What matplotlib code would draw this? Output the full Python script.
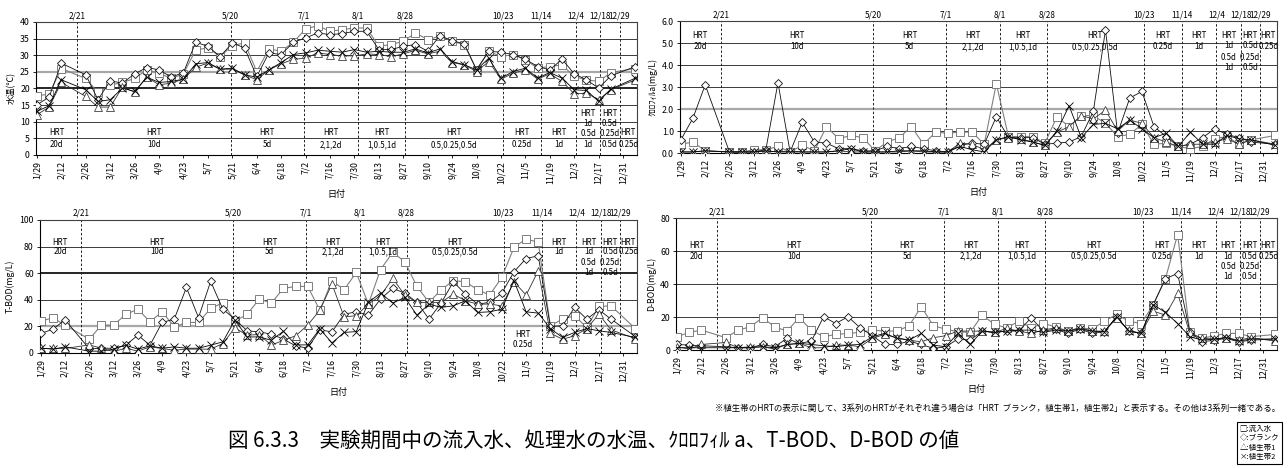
import numpy as np
import matplotlib
matplotlib.use("Agg")
import matplotlib.pyplot as plt
import matplotlib.dates as mdates
from datetime import datetime

plt.rcParams['font.family'] = ['Noto Sans CJK JP', 'DejaVu Sans']

# sampling dates (weekly, 2/19 and 12/31 missing)
dates = ["2007-01-29", "2007-02-05", "2007-02-12", "2007-02-26", "2007-03-05", "2007-03-12",
         "2007-03-19", "2007-03-26", "2007-04-02", "2007-04-09", "2007-04-16", "2007-04-23",
         "2007-04-30", "2007-05-07", "2007-05-14", "2007-05-21", "2007-05-28", "2007-06-04",
         "2007-06-11", "2007-06-18", "2007-06-25", "2007-07-02", "2007-07-09", "2007-07-16",
         "2007-07-23", "2007-07-30", "2007-08-06", "2007-08-13", "2007-08-20", "2007-08-27",
         "2007-09-03", "2007-09-10", "2007-09-17", "2007-09-24", "2007-10-01", "2007-10-08",
         "2007-10-15", "2007-10-22", "2007-10-29", "2007-11-05", "2007-11-12", "2007-11-19",
         "2007-11-26", "2007-12-03", "2007-12-10", "2007-12-17", "2007-12-24", "2008-01-07"]

tick_dates = ["2007-01-29", "2007-02-12", "2007-02-26", "2007-03-12", "2007-03-26", "2007-04-09",
              "2007-04-23", "2007-05-07", "2007-05-21", "2007-06-04", "2007-06-18", "2007-07-02",
              "2007-07-16", "2007-07-30", "2007-08-13", "2007-08-27", "2007-09-10", "2007-09-24",
              "2007-10-08", "2007-10-22", "2007-11-05", "2007-11-19", "2007-12-03", "2007-12-17",
              "2007-12-31"]
tick_labels = ["1/29", "2/12", "2/26", "3/12", "3/26", "4/9", "4/23", "5/7", "5/21", "6/4",
               "6/18", "7/2", "7/16", "7/30", "8/13", "8/27", "9/10", "9/24", "10/8", "10/22",
               "11/5", "11/19", "12/3", "12/17", "12/31"]

# HRT change dates and labels
phase_dates = ["2007-02-21", "2007-05-20", "2007-07-01", "2007-08-01", "2007-08-28",
               "2007-10-23", "2007-11-14", "2007-12-04", "2007-12-18", "2007-12-29"]
phase_labels = ["2/21", "5/20", "7/1", "8/1", "8/28", "10/23", "11/14", "12/4", "12/18", "12/29"]
hrt_values = ["20d", "10d", "5d", "2,1,2d", "1,0.5,1d", "0.5,0.25,0.5d", "0.25d", "1d",
              ["1d", "0.5d", "1d"], ["0.5d", "0.25d", "0.5d"], "0.25d"]

series_names = ["流入水", "ブランク", "植生帯1", "植生帯2"]

# 水温 (℃)
temp_inflow = [17.8, 18.3, 26.0, 23.0, 18.8, 21.0, 21.8, 23.0, 25.6, 24.6, 23.0, 24.4,
               31.6, 32.2, 29.6, 32.9, 33.7, 25.1, 31.9, 31.2, 33.9, 37.9, 38.9, 37.2,
               37.7, 38.2, 38.2, 32.7, 33.2, 34.2, 36.7, 34.7, 35.7, 34.2, 33.2, 25.6,
               31.2, 29.6, 30.2, 28.6, 26.1, 26.6, 27.1, 23.6, 22.6, 22.1, 24.8, 26.0]
temp_blank = [15.1, 17.4, 27.6, 24.1, 16.6, 22.3, 21.6, 24.4, 26.3, 25.6, 23.4, 24.8,
              33.9, 32.7, 29.6, 33.7, 32.2, 23.6, 30.7, 30.2, 33.9, 35.2, 36.7, 36.2,
              36.5, 37.2, 37.2, 31.7, 31.7, 32.7, 33.2, 31.2, 35.9, 34.4, 33.4, 25.6,
              31.2, 30.9, 30.2, 28.8, 26.6, 25.6, 28.8, 24.4, 22.6, 20.1, 23.8, 26.6]
temp_veg1 = [12.1, 14.4, 21.8, 17.6, 14.4, 14.4, 20.4, 18.9, 23.4, 21.1, 21.6, 22.8,
             26.4, 27.6, 25.8, 25.8, 24.1, 22.6, 25.6, 27.4, 28.8, 29.1, 30.7, 30.2,
             29.8, 29.8, 30.4, 30.2, 29.6, 30.4, 31.5, 30.4, 31.2, 27.8, 27.1, 25.1,
             28.1, 22.8, 24.6, 25.6, 22.8, 24.4, 22.1, 18.4, 18.6, 16.6, 19.6, 22.6]
temp_veg2 = [13.1, 14.8, 22.6, 19.6, 16.1, 16.6, 20.1, 19.1, 23.4, 21.8, 22.1, 22.8,
             27.4, 27.8, 25.8, 26.1, 24.1, 23.4, 25.6, 27.8, 30.2, 30.7, 31.5, 31.2,
             30.9, 31.7, 30.9, 31.2, 30.9, 30.9, 31.9, 30.7, 31.9, 28.1, 27.1, 25.6,
             29.1, 23.1, 25.1, 26.1, 23.1, 24.8, 23.1, 19.6, 19.4, 16.1, 19.8, 23.1]

# クロロフィルa (mg/L)
chl_inflow = [0.4, 0.5, 0.1, 0.05, 0.05, 0.15, 0.15, 0.3, 0.05, 0.35, 0.1, 1.2,
              0.65, 0.8, 0.7, 0.1, 0.5, 0.7, 1.2, 0.4, 0.95, 0.9, 0.95, 0.95,
              0.4, 3.15, 0.75, 0.75, 0.75, 0.45, 1.65, 1.2, 1.7, 1.7, 1.35, 0.75,
              0.85, 1.3, 0.4, 0.45, 0.3, 0.2, 0.3, 0.65, 0.75, 0.4, 0.6, 0.8]
chl_blank = [0.6, 1.6, 3.1, 0.05, 0.05, 0.05, 0.15, 3.2, 0.05, 1.4, 0.5, 0.45,
             0.2, 0.2, 0.1, 0.1, 0.3, 0.2, 0.3, 0.2, 0.1, 0.05, 0.35, 0.45,
             0.4, 1.65, 0.7, 0.7, 0.7, 0.4, 0.45, 0.5, 0.75, 1.9, 5.6, 0.9,
             2.5, 2.8, 1.2, 0.75, 0.3, 0.4, 0.7, 1.1, 0.85, 0.7, 0.5, 0.4]
chl_veg1 = [0.05, 0.05, 0.1, 0.05, 0.05, 0.05, 0.1, 0.05, 0.1, 0.05, 0.05, 0.05,
            0.1, 0.05, 0.05, 0.05, 0.05, 0.05, 0.1, 0.05, 0.05, 0.05, 0.45, 0.4,
            0.15, 0.6, 0.7, 0.65, 0.5, 0.35, 0.95, 1.2, 1.7, 1.55, 1.95, 1.0,
            1.5, 1.35, 0.7, 0.5, 0.3, 0.4, 0.4, 0.5, 0.65, 0.4, 0.6, 0.4]
chl_veg2 = [0.05, 0.05, 0.1, 0.05, 0.05, 0.05, 0.1, 0.05, 0.05, 0.05, 0.05, 0.05,
            0.1, 0.2, 0.05, 0.05, 0.05, 0.1, 0.1, 0.1, 0.05, 0.05, 0.3, 0.15,
            0.05, 0.6, 0.75, 0.6, 0.5, 0.35, 1.0, 2.15, 0.7, 1.3, 1.35, 1.1,
            1.5, 1.1, 0.7, 0.9, 0.3, 0.95, 0.4, 0.4, 0.8, 0.65, 0.6, 0.35]

# T-BOD (mg/L)
tbod_inflow = [23.9, 26.4, 20.9, 10.3, 20.9, 20.9, 28.9, 32.9, 23.4, 30.9, 19.6, 22.9,
               22.9, 33.4, 37.7, 24.0, 28.9, 40.5, 37.5, 48.5, 50.0, 50.0, 32.0, 54.3,
               47.5, 60.5, 36.7, 62.6, 75.6, 68.6, 50.0, 38.0, 47.5, 54.3, 53.5, 47.5,
               43.5, 56.8, 79.4, 85.7, 83.2, 20.4, 25.4, 27.9, 19.1, 34.9, 35.4, 18.3]
tbod_blank = [14.6, 17.8, 24.9, 3.0, 3.5, 3.5, 5.8, 13.3, 5.8, 22.9, 25.4, 49.2,
              26.6, 53.8, 32.9, 25.4, 16.6, 15.8, 14.1, 10.3, 5.3, 3.5, 17.3, 15.8,
              29.1, 30.9, 28.4, 40.5, 48.5, 45.0, 38.0, 25.4, 37.5, 53.5, 44.2, 36.7,
              38.0, 45.0, 61.0, 71.0, 73.0, 19.8, 20.4, 34.2, 25.4, 32.4, 25.4, 12.3]
tbod_veg1 = [3.3, 3.3, 3.3, 6.0, 3.5, 1.0, 3.5, 1.3, 4.5, 3.3, 2.0, 2.8,
             2.8, 2.8, 7.0, 18.8, 13.3, 13.8, 5.8, 9.5, 12.8, 20.9, 32.2, 51.8,
             27.0, 28.0, 36.7, 43.0, 56.0, 43.5, 38.0, 38.0, 38.0, 44.2, 39.2, 36.7,
             36.7, 35.4, 53.5, 43.5, 61.8, 14.8, 10.3, 12.8, 18.3, 29.1, 17.3, 10.8]
tbod_veg2 = [3.5, 2.8, 4.5, 1.3, 1.3, 2.8, 5.8, 2.8, 5.3, 3.5, 4.5, 3.5,
             3.5, 5.8, 8.3, 24.6, 12.0, 12.0, 9.5, 16.3, 6.0, 6.0, 18.0, 7.5,
             15.4, 16.0, 38.0, 45.0, 37.5, 41.7, 28.4, 36.7, 34.2, 35.4, 39.2, 30.4,
             30.9, 32.9, 54.3, 30.9, 29.9, 18.3, 11.6, 15.4, 18.3, 16.6, 15.4, 11.6]

# D-BOD (mg/L)
dbod_inflow = [8.1, 10.7, 12.1, 7.5, 12.1, 14.1, 19.6, 14.1, 11.5, 19.6, 12.1, 8.1,
               9.5, 10.1, 10.7, 12.1, 11.5, 11.5, 14.7, 26.2, 14.7, 12.7, 11.1, 10.7,
               21.2, 15.5, 13.5, 17.5, 13.5, 16.1, 14.1, 11.5, 13.5, 12.7, 17.5, 21.6,
               17.5, 16.1, 27.2, 43.3, 70.0, 10.7, 7.1, 8.7, 10.1, 10.1, 8.1, 9.5]
dbod_blank = [3.4, 3.0, 2.6, 2.0, 1.4, 1.4, 3.4, 2.0, 7.1, 4.0, 5.4, 20.2,
              16.1, 20.2, 13.5, 8.7, 3.4, 3.4, 5.4, 3.4, 1.0, 2.0, 6.7, 6.0,
              11.5, 10.7, 11.5, 11.5, 19.6, 11.5, 12.7, 10.1, 12.7, 10.1, 11.1, 20.2,
              11.5, 10.1, 27.6, 43.3, 46.4, 11.1, 5.0, 6.0, 7.1, 5.0, 6.0, 6.7]
dbod_veg1 = [2.0, 0.6, 3.4, 4.6, 1.4, 2.0, 2.0, 0.6, 3.4, 4.0, 1.4, 1.4,
             3.0, 3.0, 2.0, 7.1, 9.5, 7.5, 6.0, 5.0, 7.5, 8.7, 11.5, 11.5,
             11.5, 10.7, 13.1, 11.5, 10.1, 12.1, 13.5, 11.5, 13.5, 11.5, 11.5, 19.2,
             12.1, 10.1, 23.6, 21.2, 34.3, 10.1, 7.1, 6.7, 7.5, 6.0, 7.5, 5.4]
dbod_veg2 = [1.4, 1.4, 1.4, 1.4, 1.4, 1.4, 2.0, 1.4, 3.4, 4.0, 3.4, 2.6,
             2.0, 3.0, 3.4, 8.1, 10.1, 7.1, 6.0, 10.1, 3.0, 2.0, 10.1, 3.4,
             11.5, 10.7, 11.5, 12.1, 12.1, 10.7, 12.1, 11.5, 12.7, 11.5, 11.1, 20.2,
             11.5, 10.1, 27.6, 22.8, 16.1, 8.1, 6.0, 6.7, 7.5, 5.4, 6.7, 6.7]


def d(s):
    return datetime.strptime(s, "%Y-%m-%d")


x = [d(s) for s in dates]
xlim = (mdates.date2num(d("2007-01-29")) - 0.5, mdates.date2num(d("2008-01-08")))

styles = [dict(marker='s', ms=5.5, color='#808080', mec='#6a6a6a', lw=0.8),
          dict(marker='D', ms=4.4, color='#101010', mec='#101010', lw=0.6),
          dict(marker='^', ms=6, color='#303030', mec='#404040', lw=0.6),
          dict(marker='x', ms=6, color='black', mec='black', lw=0.6)]


def draw_panel(rect, data, ylim, yticks, yfmt, ylabel, rows, stack_rows,
               strong=(), gray=(), extra=None):
    ax = fig.add_axes(rect)
    for yv in yticks[1:-1]:
        if yv in gray:
            ax.axhline(yv, color='#a8a8a8', lw=1.6, zorder=1)
        elif yv in strong:
            ax.axhline(yv, color='black', lw=1.2, zorder=1)
        else:
            ax.axhline(yv, color='#3a3a3a', lw=0.7, zorder=1)
    for pd_ in phase_dates:
        ax.axvline(d(pd_), color='#202020', lw=0.7, ls=(0, (2.5, 2)), zorder=1)
    for vals, st in zip(data, styles):
        ax.plot(x, vals, mfc='white', mew=0.6, zorder=3, **st)

    ax.set_xlim(xlim)
    ax.set_ylim(ylim)
    ax.set_yticks(yticks)
    ax.set_yticklabels([yfmt.format(v) for v in yticks], fontsize=6.3)
    ax.set_xticks([d(s) for s in tick_dates])
    ax.set_xticklabels(tick_labels, rotation=90, fontsize=6.3)
    ax.tick_params(length=2.5, width=0.6, pad=2)
    for sp in ax.spines.values():
        sp.set_linewidth(0.8)
        sp.set_color('#404040')
    ax.spines['bottom'].set_color('black')
    ax.spines['left'].set_color('black')
    ax.set_ylabel(ylabel, fontsize=6.3, labelpad=3)
    ax.set_xlabel("日付", fontsize=6.5, labelpad=4)

    # phase labels above the plot
    for pd_, lab in zip(phase_dates, phase_labels):
        ax.text(d(pd_), 1.015, lab, transform=ax.get_xaxis_transform(),
                ha='center', va='bottom', fontsize=5.9)

    # HRT text in each phase
    bounds = [xlim[0]] + [mdates.date2num(d(p)) for p in phase_dates] + [xlim[1]]
    for i, hv in enumerate(hrt_values):
        xc = (bounds[i] + bounds[i + 1]) / 2
        if extra is not None and i == extra[0]:
            ys = extra[1]
        elif isinstance(hv, list):
            ys = stack_rows
        else:
            ys = rows
        labels = ["HRT"] + (hv if isinstance(hv, list) else [hv])
        for lab, yy in zip(labels, ys):
            ax.text(xc, yy, lab, ha='center', va='center', fontsize=5.7)
    return ax


fig = plt.figure(figsize=(12.88, 4.68), dpi=100)

draw_panel([0.028, 0.669, 0.4666, 0.284],
           [temp_inflow, temp_blank, temp_veg1, temp_veg2],
           (0, 40), [0, 5, 10, 15, 20, 25, 30, 35, 40], "{:d}", "水温(℃)",
           (6.6, 3.0), (12.6, 9.6, 6.3, 3.0), strong=(20,), gray=(25,))

draw_panel([0.528, 0.673, 0.4635, 0.282],
           [chl_inflow, chl_blank, chl_veg1, chl_veg2],
           (0, 6), [0, 1, 2, 3, 4, 5, 6], "{:.1f}", "ｸﾛﾛﾌｨﾙa(mg/L)",
           (5.35, 4.85), (5.35, 4.9, 4.35, 3.9), gray=(2,))

draw_panel([0.031, 0.246, 0.4636, 0.284],
           [tbod_inflow, tbod_blank, tbod_veg1, tbod_veg2],
           (0, 100), [0, 20, 40, 60, 80, 100], "{:d}", "T-BOD(mg/L)",
           (83, 76), (83, 76, 68, 60.5), strong=(60,), gray=(20,),
           extra=(6, (14, 6.5)))

draw_panel([0.525, 0.252, 0.4665, 0.282],
           [dbod_inflow, dbod_blank, dbod_veg1, dbod_veg2],
           (0, 80), [0, 20, 40, 60, 80], "{:d}", "D-BOD(mg/L)",
           (63.5, 57), (63.5, 57, 50.4, 44.4))

fig.text(0.994, 0.128,
         "※植生帯のHRTの表示に関して、3系列のHRTがそれぞれ違う場合は「HRT  ブランク，植生帯1，植生帯2」と表示する。その他は3系列一緒である。",
         ha='right', va='center', fontsize=6.1)

fig.text(0.461, 0.058,
         "図 6.3.3　実験期間中の流入水、処理水の水温、ｸﾛﾛﾌｨﾙ a、T-BOD、D-BOD の値",
         ha='center', va='center', fontsize=14.8)

legend_text = "□:流入水\n◇:ブランク\n△:植生帯1\n×:植生帯2"
fig.text(0.9625, 0.053, legend_text, ha='left', va='center', fontsize=5.4,
         linespacing=1.25,
         bbox=dict(boxstyle='square,pad=0.4', fc='white', ec='black', lw=0.8))

fig.savefig("out.png", dpi=100)
